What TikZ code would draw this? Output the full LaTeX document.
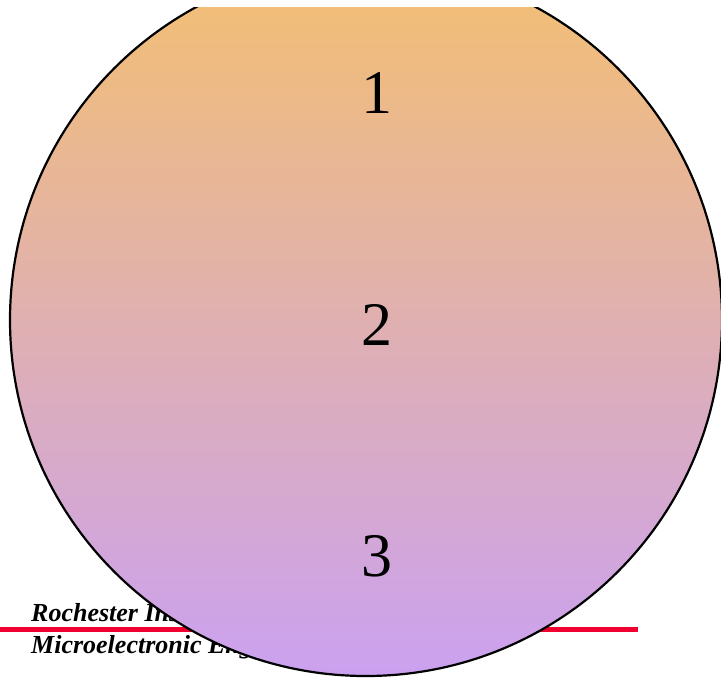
\documentclass[tikz,border=0pt]{standalone}
\usepackage{fontspec}
\setmainfont{Liberation Serif}
\usetikzlibrary{positioning}
\definecolor{waferTop}{RGB}{244,191,113}
\definecolor{waferBottom}{RGB}{203,161,240}
\definecolor{ritRed}{RGB}{240,0,48}
\tikzset{
    wafer/.style={circle, minimum size=712pt, inner sep=0pt, draw=black, line width=2.2pt, top color=waferTop, bottom color=waferBottom},
    sitelabel/.style={font=\fontsize{62}{62}\selectfont, inner sep=0pt},
    footer/.style={font=\fontsize{26}{26}\selectfont\bfseries\itshape, anchor=base west, inner sep=0pt},
    redrule/.style={ritRed, line width=5pt}
}

\begin{document}
\begin{tikzpicture}[x=1pt, y=-1pt]
\useasboundingbox (0,0) rectangle (721,678);

% Footer (behind the wafer)
\node (inst) [footer] at (31,621.5) {Rochester Institute of Technology};
\node (dept) [footer] at (31,653) {Microelectronic Engineering};
\coordinate (ruleL) at (0,629.3);
\coordinate (ruleR) at (638,629.3);
\draw [redrule] (ruleL) -- (ruleR);

% Wafer
\begin{scope}
\clip (0,7) rectangle (721,678);
\node (wafer) [wafer] at (366,320) {};
\end{scope}

% Sites
\node (site1) [sitelabel] at (377,93) {1};
\node (site2) [sitelabel] at (377,325) {2};
\node (site3) [sitelabel] at (377,556) {3};

\end{tikzpicture}
\end{document}
